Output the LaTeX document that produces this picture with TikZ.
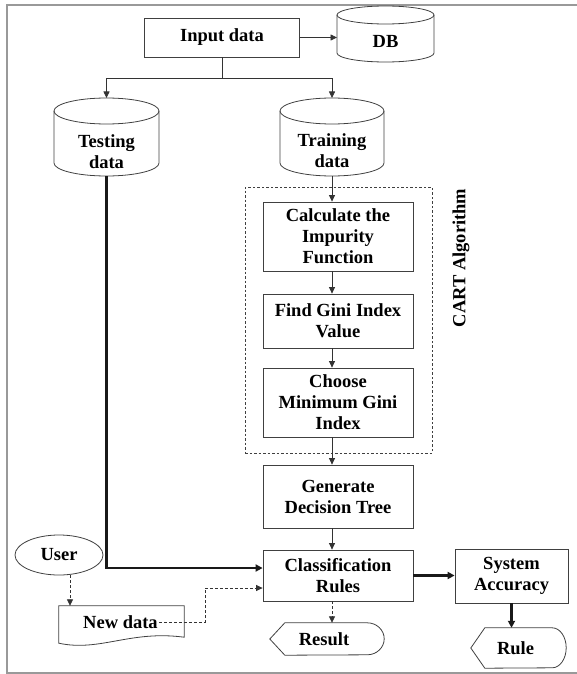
\documentclass[tikz,border=0pt]{standalone}
\usepackage{fontspec}
\setmainfont{Liberation Serif}
\usetikzlibrary{arrows.meta,shapes.geometric,calc}
\tikzset{
  shp/.style={draw=black!75, line width=0.8pt},
  txt/.style={font=\bfseries\fontsize{18.5}{21}\selectfont, align=center, inner sep=1pt},
  box/.style={shp, txt, rectangle, minimum width=150pt, inner sep=0pt},
  ln/.style={draw=black!80, line width=0.8pt, -{Triangle[length=6.5pt,width=6pt]}},
  plain/.style={draw=black!80, line width=0.8pt},
  dln/.style={ln, dash pattern=on 3pt off 2pt},
  thk/.style={draw=black!90, line width=2.2pt, -{Triangle[length=7pt,width=7pt]}},
  frame/.style={draw=black!40, line width=1.8pt}
}
\newcommand{\mycyl}[8]{%
  \node[anchor=north, minimum width=#4pt, minimum height=#5pt, inner sep=0pt, outer sep=0pt] (#1) at (#2,#3) {};
  \draw[shp] ([yshift=-#6pt]#1.north) ellipse [x radius=0.5*#4pt, y radius=#6pt];
  \draw[shp] ([yshift=-#6pt]#1.north west) -- ([yshift=#6pt]#1.south west)
     arc [start angle=180, end angle=360, x radius=0.5*#4pt, y radius=#6pt]
     -- ([yshift=-#6pt]#1.north east);
  \node[txt] (#1-t) at (#2,#7) {#8};
}
\newcommand{\mydisp}[8]{%
  \node[minimum width=#4pt, minimum height=#5pt, inner sep=0pt] (#1) at (#2,#3) {};
  \draw[shp] (#1.west) -- ([xshift=#7pt]#1.north west) -- ([xshift=-#6pt]#1.north east)
     arc [start angle=90, end angle=-90, x radius=#6pt, y radius=0.5*#5pt]
     -- ([xshift=#7pt]#1.south west) -- cycle;
  \node[txt] (#1-t) at ([xshift=-3pt]#1.center) {#8};
}
\begin{document}
\begin{tikzpicture}[x=1pt, y=-1pt]
\useasboundingbox (0,0) rectangle (576,674);
\draw[frame] (580,5) -- (7,5) -- (7,673) -- (580,673);

% top
\node[box, minimum width=155pt, minimum height=39pt] (In) at (222,37.5) {Input data};
\mycyl{DB}{385.5}{6}{97}{56}{9}{41}{DB}
\mycyl{Test}{106.5}{98}{105}{78}{13}{152}{Testing\\data}
\mycyl{Train}{332}{98}{104}{78}{13}{151}{Training\\data}

% CART group
\node[draw=black!75, line width=0.8pt, dash pattern=on 2.5pt off 2pt, minimum width=187pt, minimum height=266pt, inner sep=0pt] (CART) at (338.5,320) {};
\node[txt, rotate=90] (CARTt) at (461,258) {CART Algorithm};

\node[box, minimum height=69pt] (Calc) at (338,236.5) {Calculate the\\Impurity\\Function};
\node[box, minimum height=54pt] (Find) at (338,321) {Find Gini Index\\Value};
\node[box, minimum height=69pt] (Choose) at (338,402.5) {Choose\\Minimum Gini\\Index};
\node[box, minimum height=63pt] (Gen) at (338,496.5) {Generate\\Decision Tree};
\node[box, minimum height=51pt] (Class) at (338,575.5) {Classification\\Rules};
\node[box, minimum width=113pt, minimum height=54pt] (Sys) at (511.5,576) {System\\Accuracy};

\mydisp{Result}{327}{639}{114}{32}{17}{15}{Result}
\mydisp{Rule}{518.5}{648}{95}{40}{14}{14}{Rule}

% user side
\node[shp, txt, ellipse, minimum width=88pt, minimum height=40pt, inner sep=0pt] (User) at (59,555) {User};
\node[minimum width=125pt, minimum height=37pt, inner sep=0pt] (ND) at (121.5,624.5) {};
\draw[shp] (ND.north west) -- (ND.north east) -- ([yshift=6pt]ND.south east)
   .. controls (130,630) and (100,652) .. (ND.south west) -- cycle;
\node[txt] (NDt) at (120.5,622) {New data};
\coordinate (bx) at (205,0);
\coordinate (ux) at (70,0);

% connectors
\draw[ln] (In.east) -- (In.east -| DB.west);
\coordinate (split) at ($(In.south)+(0,21)$);
\draw[plain] (In.south) -- (split);
\draw[ln] (split) -| (Test.north);
\draw[ln] (split) -| (Train.north);
\draw[ln] (Train.south) -- (Train.south |- Calc.north);
\draw[ln] (Calc.south -| Train.south) -- (Find.north -| Train.south);
\draw[ln] (Find.south -| Train.south) -- (Choose.north -| Train.south);
\draw[ln] (Choose.south -| Train.south) -- (Gen.north -| Train.south);
\draw[ln] (Gen.south -| Train.south) -- (Class.north -| Train.south);
\draw[thk] (Test.south) |- ([yshift=7.5pt]Class.west);
\draw[dln] (User.south -| ux) -- (ND.north -| ux);
\draw[dln] (NDt.east) -- (NDt.east -| bx) |- ([yshift=-12.5pt]Class.west);
\draw[thk] (Class.east) -- (Class.east -| Sys.west);
\draw[thk] (Sys.south) -- (Sys.south |- Rule.north);
\draw[dln] (Class.south -| Train.south) -- (Result.north -| Train.south);
\end{tikzpicture}
\end{document}
